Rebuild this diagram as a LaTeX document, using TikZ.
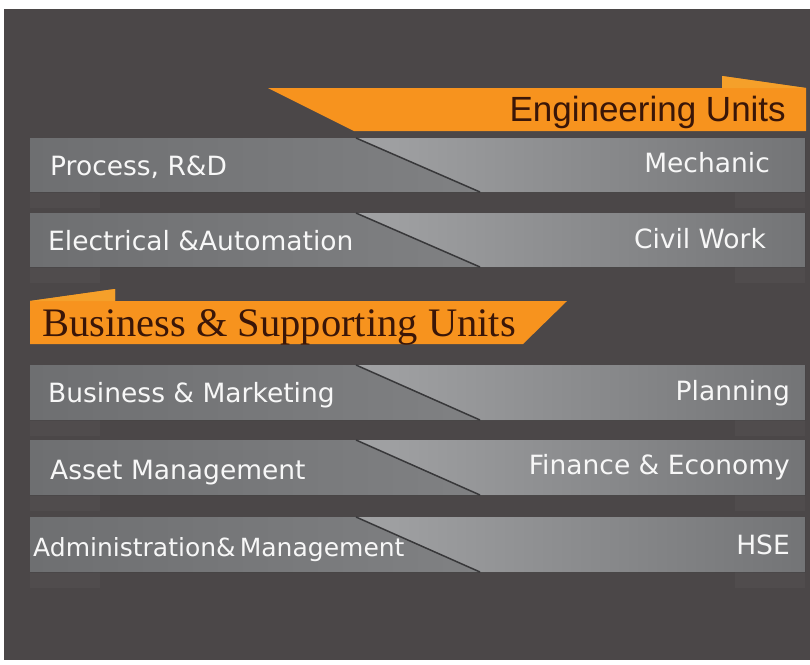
\documentclass[tikz,border=0pt]{standalone}
\usepackage{fontspec}
\usepackage{xcolor}
\setmainfont{Liberation Serif}
\newfontfamily\unitfont{DejaVu Sans}
\newfontfamily\headfont{Liberation Sans}
\definecolor{bgdark}{HTML}{4B4748}
\definecolor{bandorange}{HTML}{F7931E}
\definecolor{taborange}{HTML}{F5A02A}
\definecolor{bandtext}{HTML}{3A1608}
\definecolor{barleft}{HTML}{6E6F71}
\definecolor{barmid}{HTML}{808183}
\definecolor{barlight}{HTML}{A2A3A5}
\definecolor{barright}{HTML}{737476}
\definecolor{cutline}{HTML}{38383A}

\begin{document}
\begin{tikzpicture}[
    x=1pt,y=-1pt,
    lefthalf/.style={left color=barleft,right color=barmid},
    righthalf/.style={left color=barlight,middle color=barmid!90!barlight,right color=barright},
    cut/.style={draw=cutline,line width=1.5pt},
    tail/.style={fill=white,opacity=0.03},
    band/.style={fill=bandorange},
    unit/.style={inner sep=0pt,text=white!94!gray,font=\unitfont\fontsize{26.5}{26.5}\selectfont},
    head/.style={inner sep=0pt,text=bandtext,font=\headfont\fontsize{35}{35}\selectfont}
  ]
    \fill[white] (0,0) rectangle (810,664);
    \fill[bgdark] (4,9) rectangle (810,660);
    % bars with the slanted cut
    \foreach \t/\b in {138/192,213/267,365/420,440/495,517/572} {
      \fill[tail] (30,\b) -- (100,\b) -- (100,\b+16) -- (30,\b+16) -- cycle;
      \fill[tail] (735,\b) -- (805,\b) -- (805,\b+16) -- (735,\b+16) -- cycle;
      \fill[lefthalf] (30,\t) -- (356,\t) -- (480,\b) -- (30,\b) -- cycle;
      \fill[righthalf] (356,\t) -- (805,\t) -- (805,\b) -- (480,\b) -- cycle;
      \draw[cut] (356,\t) -- (480,\b);
    }
    % orange headings
    \fill[band] (268,88) -- (722,88) -- (722,76) -- (806,88) -- (806,131) -- (354,131) -- cycle;
    \fill[taborange] (722,88) -- (722,76) -- (806,88) -- cycle;
    \fill[band] (30,301) -- (115,289) -- (115,301) -- (567,301) -- (523,344) -- (30,344) -- cycle;
    \fill[taborange] (30,301) -- (115,289) -- (115,301) -- cycle;
    \node[head,anchor=base east] (eng) at (786,121) {Engineering Units};
    \node[head,anchor=base west,font=\rmfamily\fontsize{40.5}{40.5}\selectfont] (supp) at (42,336) {Business \& Supporting Units};
    % unit names
    \node[unit,anchor=base west] (process) at (50,175) {Process, R\&D};
    \node[unit,anchor=base east] (mechanic) at (770,172) {Mechanic};
    \node[unit,anchor=base west] (electrical) at (48,250) {Electrical \&Automation};
    \node[unit,anchor=base east] (civil) at (766,248) {Civil Work};
    \node[unit,anchor=base west] (business) at (48,402) {Business \& Marketing};
    \node[unit,anchor=base east] (planning) at (790,400) {Planning};
    \node[unit,anchor=base west] (asset) at (50,479) {Asset Management};
    \node[unit,anchor=base east] (finance) at (790,474) {Finance \& Economy};
    \node[unit,anchor=base west,font=\unitfont\fontsize{25}{25}\selectfont] (admin) at (33,556) {Administration\&\,Management};
    \node[unit,anchor=base east] (hse) at (790,554) {HSE};
  \end{tikzpicture}
\end{document}
